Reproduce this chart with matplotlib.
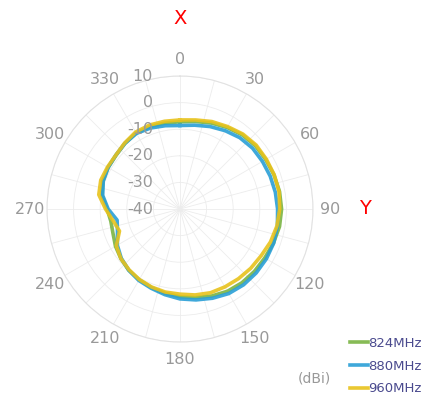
import numpy as np
import matplotlib.pyplot as plt

# ---------------------------------
# Data (gain in dBi every 10 degrees)
# ---------------------------------
angles_deg = list(range(0, 360, 10))

gain_824 = [-7.2, -6.6, -5.6, -4.6, -3.6, -3.0, -2.8, -2.4, -2.0, -1.8, -2.0, -2.6,
            -3.2, -3.5, -3.8, -4.3, -5.2, -6.2, -7.0, -7.8, -8.6, -9.3, -10.0, -11.0,
            -12.0, -13.2, -13.6, -12.6, -10.2, -9.2, -8.8, -8.6, -7.8, -7.0, -7.0, -7.2]
gain_880 = [-8.6, -8.0, -7.0, -6.0, -5.0, -4.4, -4.2, -3.9, -3.6, -3.3, -2.8, -2.5,
            -2.5, -2.6, -2.8, -3.3, -4.3, -5.3, -6.2, -7.3, -8.3, -9.0, -10.0, -11.2,
            -12.8, -15.0, -16.0, -13.0, -10.5, -9.3, -8.8, -8.5, -7.8, -7.2, -7.6, -8.2]
gain_960 = [-6.5, -6.0, -5.0, -4.2, -3.2, -2.6, -2.5, -2.3, -2.2, -2.5, -3.0, -3.8,
            -4.8, -5.3, -5.8, -6.2, -6.5, -7.2, -8.0, -8.3, -8.8, -9.4, -10.2, -11.0,
            -12.4, -15.8, -14.5, -12.0, -9.0, -8.3, -8.5, -8.5, -7.6, -6.6, -6.4, -6.5]

series_labels = ["824MHz", "880MHz", "960MHz"]
series_colors = ["#7ab443", "#2a9fd6", "#e8c21c"]

angle_ticks = [0, 30, 60, 90, 120, 150, 180, 210, 240, 270, 300, 330]
r_ticks = [-40, -30, -20, -10, 0, 10]

# ---------------------------------
# Figure
# ---------------------------------
fig = plt.figure(figsize=(4.4, 4.01), dpi=100)
ax = fig.add_axes([0.1068, 0.1471, 0.6045, 0.6633], projection="polar")
ax.set_theta_zero_location("N")
ax.set_theta_direction(-1)
ax.set_rlim(-40, 10)

ax.set_thetagrids(np.arange(0, 360, 15), labels=[])
ax.set_rgrids([-30, -20, -10, 0, 10], labels=[])
ax.grid(color="#ececec", linewidth=0.6)
ax.spines["polar"].set_color("#e2e2e2")
ax.spines["polar"].set_linewidth(0.8)
ax.tick_params(length=0)

for vals, lab, col in zip([gain_824, gain_880, gain_960], series_labels, series_colors):
    th = np.deg2rad(angles_deg + [angles_deg[0]])
    r = vals + [vals[0]]
    ax.plot(th, r, color=col, linewidth=2.6, label=lab, alpha=0.9)

# angle labels
for a in angle_ticks:
    ax.text(np.deg2rad(a), 16.4, str(a), ha="center", va="center",
            fontsize=11.5, color="#999999", clip_on=False)

# radial labels, left of the 0 deg spoke
for rv in r_ticks:
    ax.annotate(str(rv), xy=(0, rv), xytext=(-27, 0),
                textcoords="offset pixels", ha="right", va="center",
                fontsize=11.5, color="#999999", annotation_clip=False)

fig.text(180 / 440, 1 - 18 / 401, "X", color="red", fontsize=14, ha="center", va="center")
fig.text(365 / 440, 1 - 209 / 401, "Y", color="red", fontsize=14, ha="center", va="center")
fig.text(314 / 440, 1 - 378 / 401, "(dBi)", color="#999999", fontsize=10, ha="center", va="center")

leg = fig.legend(loc="center", bbox_to_anchor=(386 / 440, 1 - 366 / 401),
                 frameon=False, fontsize=9.5, handlelength=1.4, handletextpad=0.0,
                 labelspacing=0.75, borderpad=0.2)
for t in leg.get_texts():
    t.set_color("#4a4a8e")

fig.savefig("out.png", dpi=100, facecolor="white")
